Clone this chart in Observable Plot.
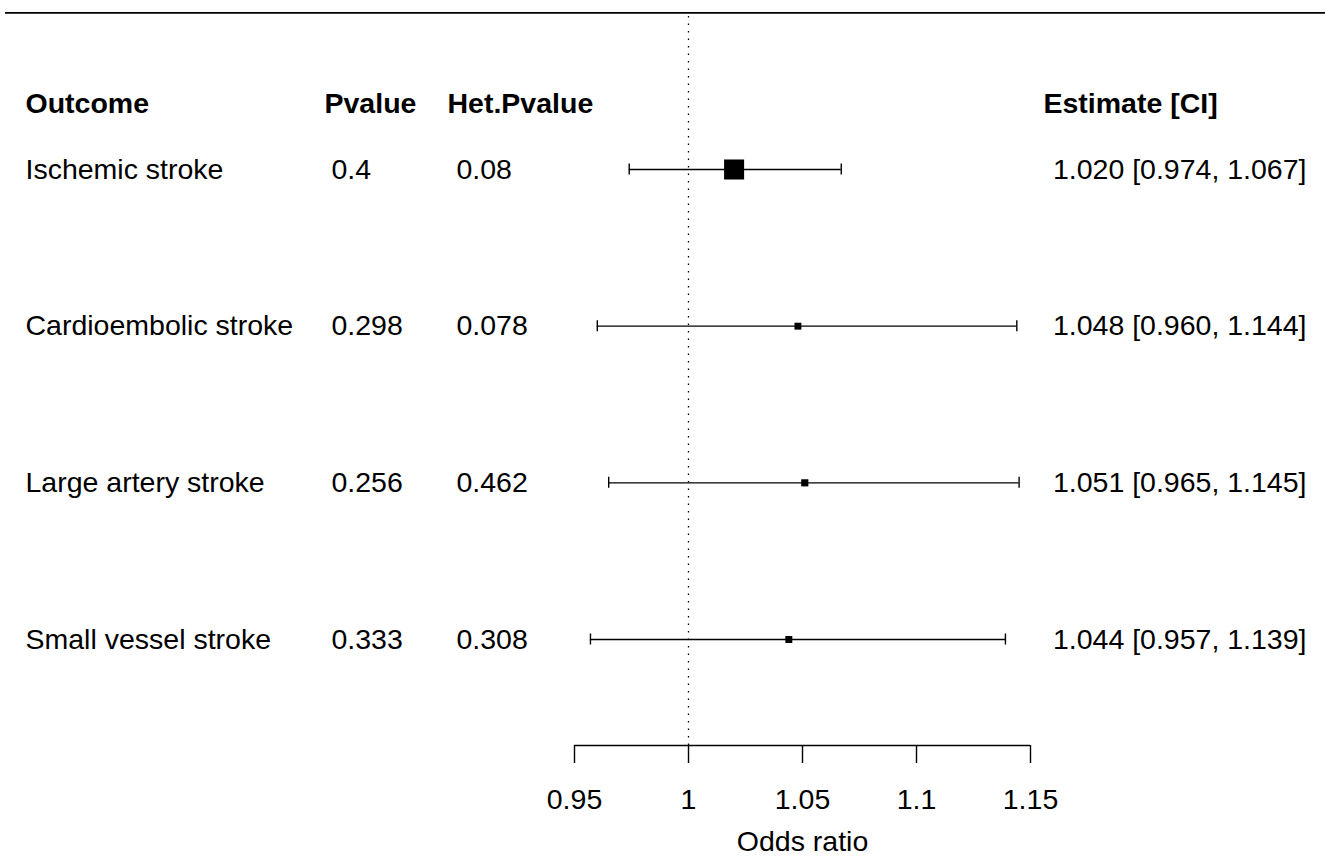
<!DOCTYPE html>
<html><head><meta charset="utf-8">
<script src="https://cdn.jsdelivr.net/npm/d3@7"></script>
<script src="https://cdn.jsdelivr.net/npm/@observablehq/plot@0.6"></script>
<style>html,body{margin:0;padding:0;background:#fff}svg{display:block}</style>
</head><body><div id="chart"></div>
<script>
const outcomes = ["Ischemic stroke", "Cardioembolic stroke", "Large artery stroke", "Small vessel stroke"];
const estimates = [1.020, 1.048, 1.051, 1.044];
const lowers = [0.974, 0.960, 0.965, 0.957];
const uppers = [1.067, 1.144, 1.145, 1.139];
const pvalues = ["0.4", "0.298", "0.256", "0.333"];
const hetPvalues = ["0.08", "0.078", "0.462", "0.308"];
const xTicks = [0.95, 1, 1.05, 1.1, 1.15];
const headerLabels = ["Outcome", "Pvalue", "Het.Pvalue", "Estimate [CI]"];
const xLabel = "Odds ratio";
const refValue = 1;

// weights from CI width (inverse variance on log scale), metafor-style box size 0.5..1.5
const se = lowers.map((l, i) => (Math.log(uppers[i]) - Math.log(l)) / (2 * 1.96));
const w = se.map(s => 1 / (s * s));
const wMin = d3.min(w), wMax = d3.max(w);
const f3 = d3.format(".3f");

const rows = outcomes.map((o, i) => ({
  outcome: o,
  est: estimates[i],
  lo: lowers[i],
  hi: uppers[i],
  p: pvalues[i],
  het: hetPvalues[i],
  row: outcomes.length - i,
  psize: 0.5 + (w[i] - wMin) / (wMax - wMin),
  label: `${f3(estimates[i])} [${f3(lowers[i])}, ${f3(uppers[i])}]`
}));

const topRow = outcomes.length + 1;
const axisRow = 0.3234;
const headerRow = outcomes.length;
const font = "'Liberation Sans', Arial, Helvetica, sans-serif";

const chart = Plot.plot({
  width: 1325,
  height: 868,
  marginLeft: 0,
  marginRight: 0,
  marginTop: 0,
  marginBottom: 123,
  style: {fontFamily: font, fontSize: "28.5px", color: "black", background: "white"},
  x: {type: "linear", domain: [0.95, 1.15], range: [574, 1030]},
  y: {type: "linear", domain: [1, 4], range: [639, 169], axis: null},
  r: {type: "linear", domain: [0.5, 1.5], range: [3.9, 11.3]},
  marks: [
    // top line
    Plot.ruleY([topRow], {insetLeft: 5, stroke: "black", strokeWidth: 1.6}),
    // reference line
    Plot.ruleX([refValue], {y1: axisRow, y2: topRow, stroke: "black", strokeWidth: 1.3, strokeDasharray: "1.5,6"}),
    // CI lines
    Plot.ruleY(rows, {x1: "lo", x2: "hi", y: "row", stroke: "black", strokeWidth: 1.4}),
    Plot.ruleX(rows, {x: "lo", y1: "row", y2: "row", insetTop: -5.5, insetBottom: -5.5, stroke: "black", strokeWidth: 1.4}),
    Plot.ruleX(rows, {x: "hi", y1: "row", y2: "row", insetTop: -5.5, insetBottom: -5.5, stroke: "black", strokeWidth: 1.4}),
    // boxes
    Plot.dot(rows, {x: "est", y: "row", r: "psize", symbol: "square", fill: "black", stroke: "none"}),
    // axis line + axis
    Plot.ruleY([axisRow], {x1: d3.min(xTicks), x2: d3.max(xTicks), stroke: "black", strokeWidth: 1.4}),
    Plot.axisX({anchor: "bottom", ticks: xTicks, tickSize: 18, tickPadding: 25, tickFormat: d => String(d), label: null, strokeWidth: 1.4}),
    Plot.text([xLabel], {x: d3.mean(d3.extent(xTicks)), y: axisRow, dy: 96, text: d => d, lineAnchor: "middle", textAnchor: "middle"}),
    // headers
    Plot.text([headerLabels[0]], {frameAnchor: "left", y: headerRow, dy: -66, dx: 25, text: d => d, textAnchor: "start", fontWeight: "bold", lineAnchor: "middle"}),
    Plot.text([headerLabels[1]], {frameAnchor: "left", y: headerRow, dy: -66, dx: 324, text: d => d, textAnchor: "start", fontWeight: "bold", lineAnchor: "middle"}),
    Plot.text([headerLabels[2]], {frameAnchor: "left", y: headerRow, dy: -66, dx: 447, text: d => d, textAnchor: "start", fontWeight: "bold", lineAnchor: "middle"}),
    Plot.text([headerLabels[3]], {frameAnchor: "left", y: headerRow, dy: -66, dx: 1043, text: d => d, textAnchor: "start", fontWeight: "bold", lineAnchor: "middle"}),
    // columns
    Plot.text(rows, {frameAnchor: "left", y: "row", dx: 25, text: "outcome", textAnchor: "start", lineAnchor: "middle"}),
    Plot.text(rows, {frameAnchor: "left", y: "row", dx: 331, text: "p", textAnchor: "start", lineAnchor: "middle"}),
    Plot.text(rows, {frameAnchor: "left", y: "row", dx: 456, text: "het", textAnchor: "start", lineAnchor: "middle"}),
    Plot.text(rows, {frameAnchor: "right", y: "row", dx: -19, text: "label", textAnchor: "end", lineAnchor: "middle"})
  ]
});
document.getElementById("chart").appendChild(chart);
</script>
</body></html>
